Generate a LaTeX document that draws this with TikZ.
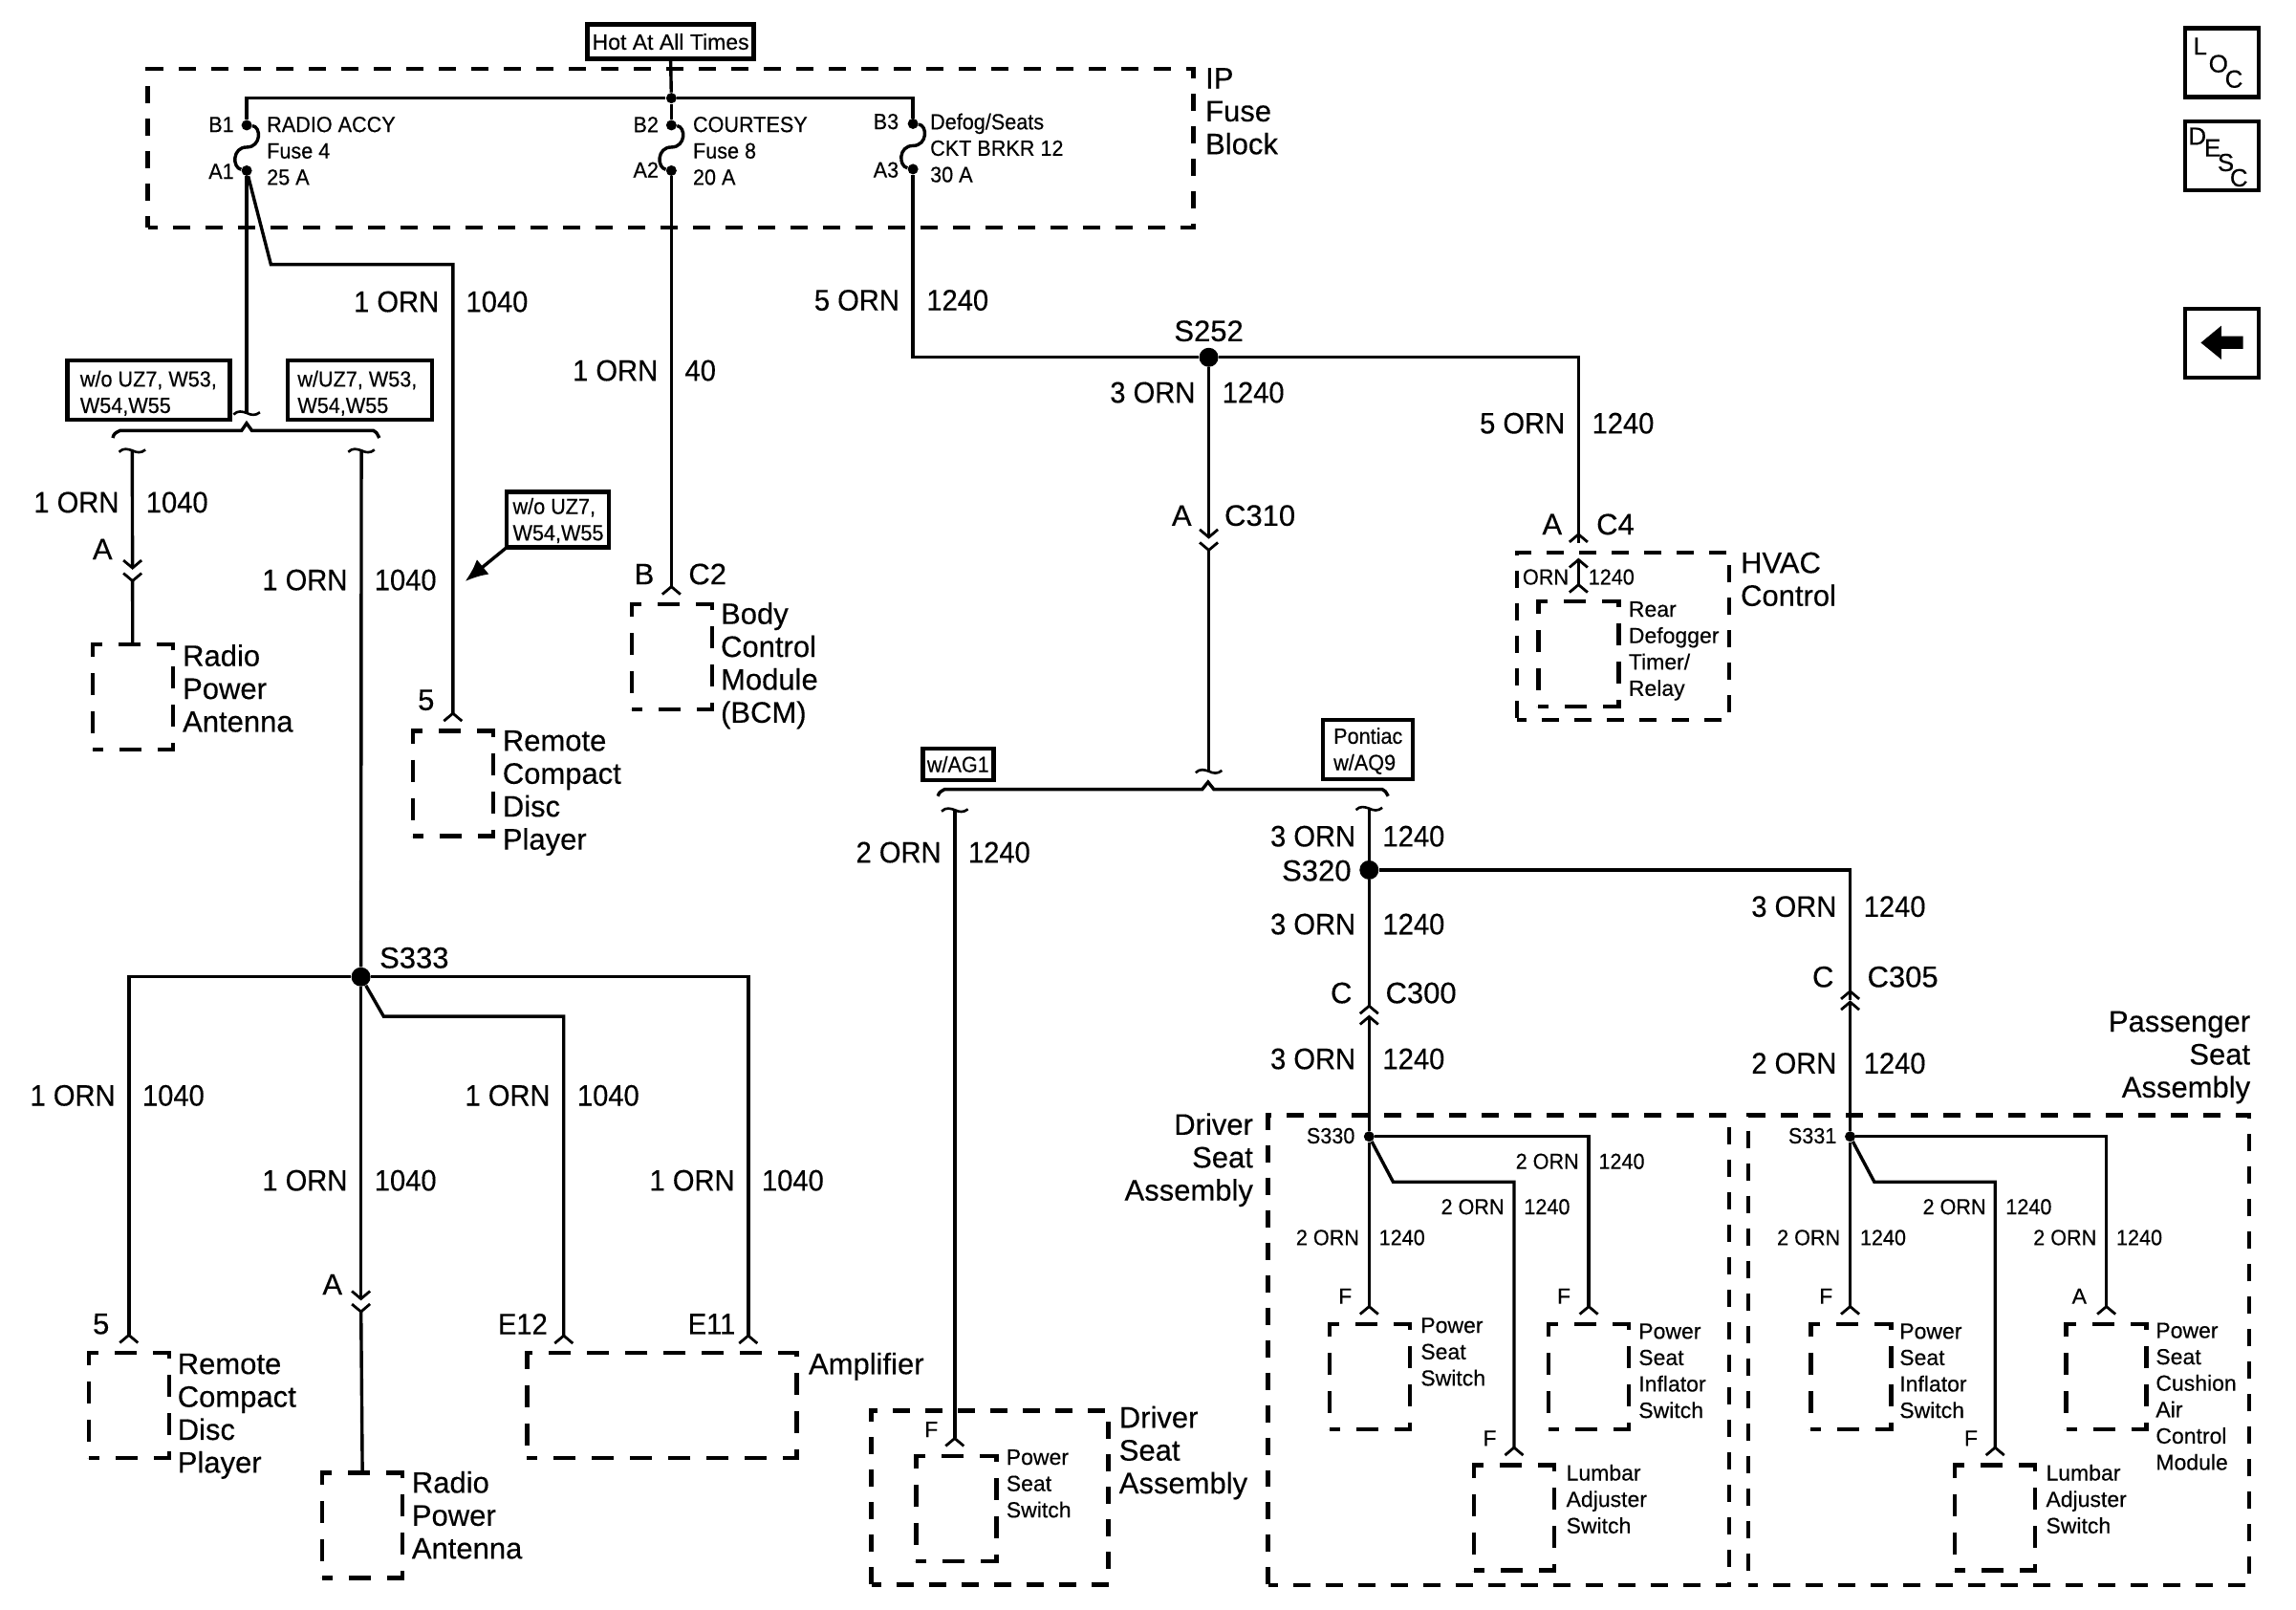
\documentclass[tikz,border=0pt]{standalone}
\usepackage{fontspec}
\setmainfont{Liberation Sans}[FakeBold=0.3]
\newfontfamily\narrowfont{Liberation Sans}[FakeStretch=0.94,FakeBold=0.3]
\usetikzlibrary{arrows.meta}

\tikzset{
  pintip/.tip={Straight Barb[reversed,length=4pt,width=9.5pt,line width=1.4pt]},
  barbtip/.tip={Straight Barb[length=4pt,width=9.5pt,line width=1.4pt]},
  wire/.style={line width=1.7pt, line join=miter},
  pinwire/.style={wire, -pintip, shorten >=4.5pt},
  splice/.style={circle, fill=black, inner sep=0pt, minimum size=10pt},
  minisplice/.style={circle, fill=black, inner sep=0pt, minimum size=5.5pt},
  pindot/.style={circle, fill=black, inner sep=0pt, minimum size=5.5pt},
  bigbox/.style={draw, line width=2.2pt, dash pattern=on 9pt off 8pt, dash phase=4pt, inner sep=0pt, outer sep=0pt},
  compbox/.style={draw, line width=2.2pt, dash pattern=on 11.5pt off 8.5pt, dash phase=6pt, inner sep=0pt, outer sep=0pt,
    minimum width=42pt, minimum height=55pt},
  optbox/.style={draw, line width=2.2pt, inner sep=0pt, outer sep=0pt},
  biglab/.style={inner sep=0pt, align=left, font=\fontsize{15.5}{17.2}\selectfont},
  smalllab/.style={inner sep=0pt, align=left, font=\fontsize{11.5}{13.8}\selectfont},
  bigwirelab/.style={biglab, font=\narrowfont\fontsize{15.5}{17.2}\selectfont},
  smallwirelab/.style={smalllab, font=\narrowfont\fontsize{11.5}{13.8}\selectfont},
  iconlab/.style={inner sep=0pt, font=\fontsize{13}{14}\selectfont},
  fuse/.pic={
    \node (-top) at (0,-15) [pindot] {};
    \node (-bot) at (0,16) [pindot] {};
    \draw[wire] (-top) .. controls (10,-14) and (10,0) .. (0,0) .. controls (-10,0) and (-10,14) .. (-bot);
  },
  wave/.pic={
    \coordinate (-c) at (0,0);
    \draw[line width=1.3pt] (-9,1) .. controls (-6,-2) and (-3,-1) .. (0,0) .. controls (3,1.5) and (6,2) .. (9,-0.5);
  }
}

\begin{document}
\begin{tikzpicture}[x=0.766pt, y=-0.766pt]
    \useasboundingbox (0,0) rectangle (1568,1099.3);

    % fuse block
    \node (Hot) at (458,28.5) [optbox, minimum width=87pt, minimum height=18pt, smalllab] {Hot At All Times};
    \node (FuseBlock) at (458,101.3) [bigbox, minimum width=547pt, minimum height=83pt] {};
    \node (FuseLab) at (823,76) [biglab, anchor=west] {IP\\Fuse\\Block};
    \node (Bus) at (458.5,67) [minisplice] {};
    \pic (f1) at (168.5,100.5) {fuse};
    \pic (f2) at (458.5,100.5) {fuse};
    \pic (f3) at (623.5,99.5) {fuse};
    \draw[wire] (Hot.south) to (Bus);
    \draw[wire] (f1-top) |- (Bus) -| (f3-top);
    \draw[wire] (Bus) to (f2-top);
    \node (B1) at (160,85) [smallwirelab, anchor=east] {B1};
    \node (A1) at (160,117) [smallwirelab, anchor=east] {A1};
    \node (B2) at (450,85) [smallwirelab, anchor=east] {B2};
    \node (A2) at (450,116) [smallwirelab, anchor=east] {A2};
    \node (B3) at (614,83) [smallwirelab, anchor=east] {B3};
    \node (A3) at (614,116) [smallwirelab, anchor=east] {A3};
    \node (Radio) at (182,103) [smallwirelab, anchor=west] {RADIO ACCY\\Fuse 4\\25 A};
    \node (Courtesy) at (473,103) [smallwirelab, anchor=west] {COURTESY\\Fuse 8\\20 A};
    \node (Defog) at (635,101) [smallwirelab, anchor=west] {Defog/Seats\\CKT BRKR 12\\30 A};

    % option boxes
    \node (NoUZ) at (101.5,266.3) [optbox, minimum width=85pt, minimum height=31pt] {};
    \node (NoUZLab) at (54.5,268.5) [smallwirelab, anchor=west] {w/o UZ7, W53,\\W54,W55};
    \node (WithUZ) at (245.8,266.3) [optbox, minimum width=75.5pt, minimum height=31pt] {};
    \node (WithUZLab) at (203,268.5) [smallwirelab, anchor=west] {w/UZ7, W53,\\W54,W55};
    \node (NoUZTwo) at (381,354.8) [optbox, minimum width=53.5pt, minimum height=29pt] {};
    \node (NoUZTwoLab) at (350,355.5) [smallwirelab, anchor=west] {w/o UZ7,\\W54,W55};
    \node (AGone) at (654.3,521.8) [optbox, minimum width=37pt, minimum height=16.5pt, smallwirelab] {w/AG1};
    \node (Pontiac) at (934.3,511.8) [optbox, minimum width=47pt, minimum height=31pt] {};
    \node (PontiacLab) at (934.3,512.8) [smallwirelab] {Pontiac\\w/AQ9};
    \coordinate (CalloutTip) at (317.6,397);
    \draw[wire, -{Latex[length=12pt,width=10pt]}] (NoUZTwo.south west) to (CalloutTip);

    % branches and their breaks
    \pic (w1) at (168.5,282) {wave};
    \pic (w2) at (90.3,307.6) {wave};
    \pic (w3) at (246.8,307.6) {wave};
    \pic (w4) at (825.5,526.6) {wave};
    \pic (w5) at (652,553) {wave};
    \pic (w6) at (935,552) {wave};
    \draw[wire] (77,299) .. controls (78,296) .. (82,294) -- (165,294) -- (168.4,289) -- (172,294) -- (255,294) .. controls (257,295) .. (259,299);
    \draw[wire] (640.5,543.6) .. controls (641.5,541) .. (645,539) -- (821,539) -- (825,534) -- (829,539) -- (944,539) .. controls (946,540) .. (948,543.6);

    % splices
    \node (S252) at (825.5,244) [splice] {};
    \node (S320) at (935,594) [splice] {};
    \node (S333) at (246.5,667) [splice] {};
    \node (S330) at (935,776) [minisplice] {};
    \node (S331) at (1263.5,776) [minisplice] {};
    \node (S252Lab) at (825.5,226) [biglab] {S252};
    \node (S320Lab) at (923,594.5) [biglab, anchor=east] {S320};
    \node (S333Lab) at (259,654) [biglab, anchor=west] {S333};
    \node (S330Lab) at (925.5,775.5) [smallwirelab, anchor=east] {S330};
    \node (S331Lab) at (1254.5,775.5) [smallwirelab, anchor=east] {S331};

    % components
    \node (AntTop) at (90.6,476) [compbox] {};
    \node (CdTop) at (309.3,535) [compbox] {};
    \node (BCM) at (459,448.5) [compbox] {};
    \node (HVAC) at (1108.5,434.6) [bigbox, minimum width=111pt, minimum height=87.5pt] {};
    \node (Rear) at (1078,446.5) [compbox] {};
    \node (CdLow) at (88,959.5) [compbox] {};
    \node (AntLow) at (247.5,1041.5) [compbox] {};
    \node (Amp) at (452,959.5) [compbox, minimum width=141pt] {};
    \node (SeatMid) at (676,1022.5) [bigbox, minimum width=124pt, minimum height=91pt] {};
    \node (SwMid) at (653,1030) [compbox] {};
    \node (SeatDrv) at (1023.5,922) [bigbox, minimum width=241.3pt, minimum height=245.9pt] {};
    \node (SwDrv) at (935.5,940) [compbox] {};
    \node (InfDrv) at (1085,940) [compbox] {};
    \node (LumDrv) at (1034,1036.3) [compbox] {};
    \node (SeatPas) at (1365,922) [bigbox, minimum width=262pt, minimum height=245.9pt] {};
    \node (InfPas) at (1264,940) [compbox] {};
    \node (CusPas) at (1438.5,940) [compbox] {};
    \node (LumPas) at (1362.5,1036.3) [compbox] {};

    % component names
    \node (AntTopLab) at (124.5,470) [biglab, anchor=west] {Radio\\Power\\Antenna};
    \node (CdTopLab) at (343,541.5) [biglab, anchor=west] {Remote\\Compact\\Disc\\Player};
    \node (BCMLab) at (492,454.5) [biglab, anchor=west] {Body\\Control\\Module\\(BCM)};
    \node (HVACLab) at (1188.5,395.5) [biglab, anchor=west] {HVAC\\Control};
    \node (RearLab) at (1112,444.5) [smalllab, anchor=west] {Rear\\Defogger\\Timer/\\Relay};
    \node (CdLowLab) at (121,967) [biglab, anchor=west] {Remote\\Compact\\Disc\\Player};
    \node (AntLowLab) at (281,1034.5) [biglab, anchor=west] {Radio\\Power\\Antenna};
    \node (AmpLab) at (552,933) [biglab, anchor=west] {Amplifier};
    \node (SeatMidLab) at (764,992) [biglab, anchor=west] {Driver\\Seat\\Assembly};
    \node (SwMidLab) at (687,1013) [smalllab, anchor=west] {Power\\Seat\\Switch};
    \node (SeatDrvLab) at (856,792) [biglab, anchor=east, align=right] {Driver\\Seat\\Assembly};
    \node (SwDrvLab) at (970,923) [smalllab, anchor=west] {Power\\Seat\\Switch};
    \node (InfDrvLab) at (1118.8,936) [smalllab, anchor=west] {Power\\Seat\\Inflator\\Switch};
    \node (LumDrvLab) at (1069.4,1023.5) [smalllab, anchor=west] {Lumbar\\Adjuster\\Switch};
    \node (SeatPasLab) at (1537,722) [biglab, anchor=east, align=right] {Passenger\\Seat\\Assembly};
    \node (InfPasLab) at (1297,936) [smalllab, anchor=west] {Power\\Seat\\Inflator\\Switch};
    \node (CusPasLab) at (1472,953.5) [smalllab, anchor=west] {Power\\Seat\\Cushion\\Air\\Control\\Module};
    \node (LumPasLab) at (1397,1023.5) [smalllab, anchor=west] {Lumbar\\Adjuster\\Switch};

    % in-line connectors
    \coordinate (AntTopOut) at (90.5,389);
    \coordinate (AntTopIn) at (90.5,390.5);
    \coordinate (AntLowOut) at (246.5,888);
    \coordinate (AntLowIn) at (246.5,889.5);
    \coordinate (C310Out) at (825.5,368);
    \coordinate (C310In) at (825.5,369.5);
    \coordinate (C4Out) at (1078,371);
    \coordinate (C4In) at (1078,381);
    \coordinate (C300Out) at (935,693);
    \coordinate (C300In) at (935,693);
    \coordinate (C305Out) at (1263.5,683);
    \coordinate (C305In) at (1263.5,683);
    \coordinate (Bend1) at (185,180.6);
    \coordinate (Bend2) at (262,694);
    \coordinate (Bend3) at (951.4,807);
    \coordinate (Bend4) at (1280,807);
    \coordinate (E12Pin) at (385,924);
    \coordinate (E11Pin) at (511,924);

    % wires
    \draw[wire] (f1-bot) to (w1-c);
    \draw[pinwire] (f1-bot) -- (Bend1) -| (CdTop.north);
    \draw[pinwire] (f2-bot) to (f2-bot |- BCM.north);
    \draw[wire] (f3-bot) |- (S252);
    \draw[wire] (S252) -| (C4Out);
    \draw[wire, -pintip] (C4Out |- S252) to (C4Out);
    \draw[wire, -barbtip] (S252) to (C310Out);
    \draw[wire, pintip-] (C310In) to (w4-c);
    \draw[wire, -barbtip] (w2-c) to (AntTopOut);
    \draw[wire, pintip-] (AntTopIn) to (AntTop.north);
    \draw[wire] (w3-c) to (S333);
    \draw[wire, -barbtip] (S333) to (AntLowOut);
    \draw[wire, pintip-] (AntLowIn) to (AntLow.north);
    \draw[pinwire] (S333) -| (CdLow.north);
    \draw[pinwire] (S333) -| (E11Pin);
    \draw[pinwire] (S333) -- (Bend2) -| (E12Pin);
    \draw[pinwire] (w5-c) to (w5-c |- SwMid.north);
    \draw[wire] (w6-c) to (S320);
    \draw[wire, -pintip] (S320) to (C300Out);
    \draw[wire, -barbtip] (S330) to (C300In);
    \draw[wire] (S320) -| (C305Out);
    \draw[wire, -pintip] (S320 -| C305Out) to (C305Out);
    \draw[wire, -barbtip] (S331) to (C305In);
    \draw[pinwire] (S330) to (S330 |- SwDrv.north);
    \draw[pinwire] (S330) -| (InfDrv.north);
    \draw[pinwire] (S330) -- (Bend3) -| (LumDrv.north);
    \draw[pinwire] (S331) to (S331 |- InfPas.north);
    \draw[pinwire] (S331) -| (CusPas.north);
    \draw[pinwire] (S331) -- (Bend4) -| (LumPas.north);
    \draw[wire, pintip-barbtip, shorten <=4pt] (Rear.north) to (C4In);

    % wire labels
    \foreach \wx/\wy/\ga/\ci [count=\n] in {309/206/1 ORN/1040, 458.5/253/1 ORN/40, 623.5/205/5 ORN/1240,
        825.5/268/3 ORN/1240, 1078/289/5 ORN/1240, 90.5/343/1 ORN/1040, 246.5/396/1 ORN/1040,
        652/582/2 ORN/1240, 935/571/3 ORN/1240, 935/631/3 ORN/1240, 935/723/3 ORN/1240,
        1263.5/619/3 ORN/1240, 1263.5/726/2 ORN/1240, 88/748/1 ORN/1040, 246.5/806/1 ORN/1040,
        385/748/1 ORN/1040, 511/806/1 ORN/1040} {
      \node (ga\n) at (\wx-9,\wy) [bigwirelab, anchor=east] {\ga};
      \node (ci\n) at (\wx+9,\wy) [bigwirelab, anchor=west] {\ci};
    }
    \foreach \wx/\wy/\ga/\ci [count=\n] in {1085/793/2 ORN/1240, 1034/824/2 ORN/1240, 935/845/2 ORN/1240,
        1363/824/2 ORN/1240, 1263.5/845/2 ORN/1240, 1438.5/845/2 ORN/1240, 1078/394/ORN/1240} {
      \node (sga\n) at (\wx-6.5,\wy) [smallwirelab, anchor=east] {\ga};
      \node (sci\n) at (\wx+6.5,\wy) [smallwirelab, anchor=west] {\ci};
    }

    % pin and connector names
    \node (pA1) at (70,375) [biglab] {A};
    \node (p5a) at (291,478) [biglab] {5};
    \node (pB) at (440,392) [biglab] {B};
    \node (pC2) at (470,392) [biglab, anchor=west] {C2};
    \node (pA2) at (807,352) [biglab] {A};
    \node (pC310) at (836,352) [biglab, anchor=west] {C310};
    \node (pA3) at (1060,358) [biglab] {A};
    \node (pC4) at (1090,358) [biglab, anchor=west] {C4};
    \node (pC) at (916,678) [biglab] {C};
    \node (pC300) at (946,678) [biglab, anchor=west] {C300};
    \node (pCb) at (1245,667) [biglab] {C};
    \node (pC305) at (1275,667) [biglab, anchor=west] {C305};
    \node (pA4) at (227,877) [biglab] {A};
    \node (p5b) at (69,904) [biglab] {5};
    \node (pE12) at (357,904) [bigwirelab] {E12};
    \node (pE11) at (486,904) [bigwirelab] {E11};
    \node (pF1) at (636,976) [smalllab] {F};
    \node (pF2) at (918.7,885) [smalllab] {F};
    \node (pF3) at (1068,885) [smalllab] {F};
    \node (pF4) at (1017.4,982) [smalllab] {F};
    \node (pF5) at (1247,885) [smalllab] {F};
    \node (pA5) at (1420,885) [smalllab] {A};
    \node (pF6) at (1346,982) [smalllab] {F};

    % icons
    \node (Loc) at (1517.3,42.7) [optbox, minimum width=38.5pt, minimum height=36pt] {};
    \node (LocL) at (1502.5,31.5) [iconlab] {L};
    \node (LocO) at (1515,43.5) [iconlab] {O};
    \node (LocC) at (1525.6,54) [iconlab] {C};
    \node (Desc) at (1517.3,106.5) [optbox, minimum width=38.5pt, minimum height=36pt] {};
    \node (DescD) at (1500.6,93) [iconlab] {D};
    \node (DescE) at (1511,101) [iconlab] {E};
    \node (DescS) at (1520,111) [iconlab] {S};
    \node (DescC) at (1529,121.4) [iconlab] {C};
    \node (Back) at (1517.3,234.3) [optbox, minimum width=38.5pt, minimum height=36pt] {};
    \fill (1503,234) -- (1517,222.4) -- (1517,229.5) -- (1531.8,229.5) -- (1531.8,238.2) -- (1517,238.2) -- (1517,245.4) -- cycle;
\end{tikzpicture}
\end{document}
